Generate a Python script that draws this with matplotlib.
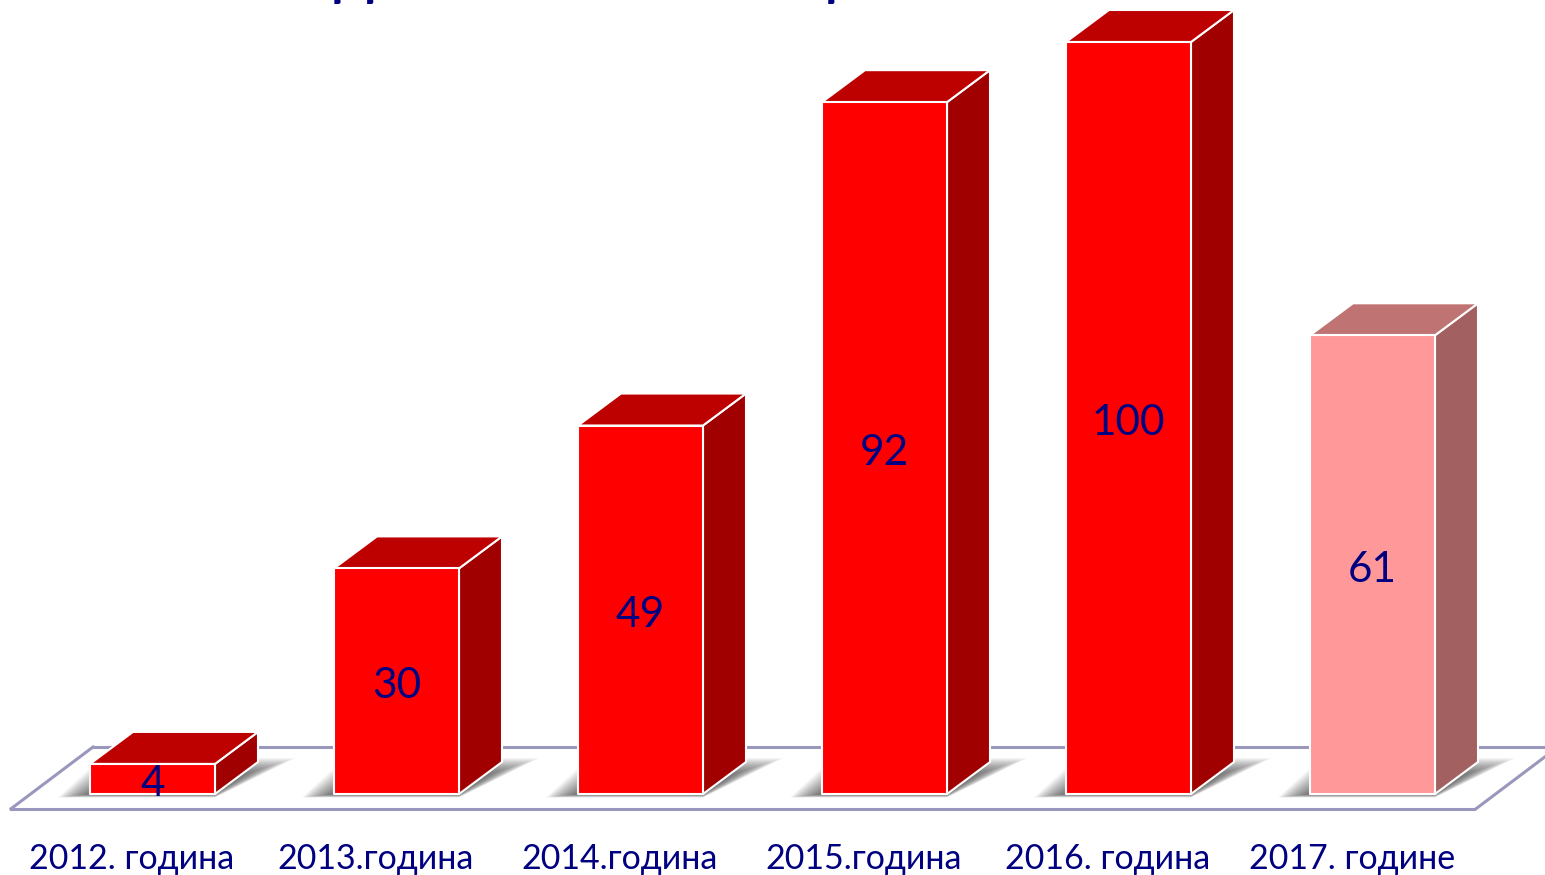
import matplotlib
matplotlib.use('Agg')
import matplotlib.pyplot as plt
from matplotlib.patches import Polygon

plt.rcParams['font.family'] = ['Lato', 'Noto Sans', 'DejaVu Sans']

categories = ['2012. година', '2013.година', '2014.година',
              '2015.година', '2016. година', '2017. године']
values = [4, 30, 49, 92, 100, 61]

front_colors = ['#ff0000'] * 5 + ['#ff9999']
top_colors = ['#bd0000'] * 5 + ['#bf7373']
side_colors = ['#a00000'] * 5 + ['#a36060']

navy = '#000080'
floor_color = '#9a97bd'

# one category is 244 px wide, one unit of value is 7.52 px tall
W, H = 1545, 875
cat_px, val_px = 244.0, 7.52
x0_px, base_px = 152.5, 794.0
bar_w = 125 / cat_px
dx, dy = 43 / cat_px, 32 / val_px

fig = plt.figure(figsize=(W / 100, H / 100), dpi=100)
ax = fig.add_axes([0, 0, 1, 1])
ax.set_xlim(-x0_px / cat_px, (W - x0_px) / cat_px)
ax.set_ylim(-(H - base_px) / val_px, base_px / val_px)
ax.axis('off')

# floor outline
fl, fr = -142.5 / cat_px, 1322.5 / cat_px
fy0, fy1 = -15.5 / val_px, 47 / val_px
fdx = 83 / cat_px
ax.plot([fl + fdx, fl, fr, fr + fdx], [fy1, fy0, fy0, fy1],
        color=floor_color, lw=2.2, zorder=1, solid_joinstyle='miter')
ax.plot([fl + fdx, fr + fdx], [fy1, fy1], color=floor_color, lw=2.2, zorder=1)

# soft shadow behind each bar, stacked translucent shapes
steps = 24
for i in range(len(values)):
    for s in range(steps):
        t = s / (steps - 1)
        grow_l = (1 - t) * 32 / cat_px
        grow_r = (1 - t) * 32 / cat_px
        l = i - bar_w / 2 - grow_l
        r = i + bar_w / 2
        y0 = -3.5 * (1 - t) / val_px
        y1 = (36 - 18 * t) / val_px
        ax.add_patch(Polygon([(l, y0), (r, y0), (r + dx * (y1 * val_px / 32) + grow_r, y1),
                              (l + dx, y1)],
                             closed=True, fc='#303030', ec='none', alpha=0.045, zorder=2))

# bars: side, top, front
edge = dict(ec='white', lw=1.5, joinstyle='round', zorder=3)
for i, v in enumerate(values):
    l, r = i - bar_w / 2, i + bar_w / 2
    ax.add_patch(Polygon([(r, 0), (r + dx, dy), (r + dx, v + dy), (r, v)],
                         closed=True, fc=side_colors[i], **edge))
    ax.add_patch(Polygon([(l, v), (r, v), (r + dx, v + dy), (l + dx, v + dy)],
                         closed=True, fc=top_colors[i], **edge))
    ax.add_patch(Polygon([(l, 0), (r, 0), (r, v), (l, v)],
                         closed=True, fc=front_colors[i], **edge))
    ax.text(i, v / 2 - 5 / val_px, str(v), color=navy, fontsize=30.5,
            ha='center', va='center', zorder=4)
    ax.text(i - 20.5 / cat_px, -65 / val_px, categories[i], color=navy, fontsize=24.5,
            ha='center', va='center', zorder=4)

# title is cut off by the top edge, only the letter feet remain
ax.text((354 - x0_px) / cat_px, (base_px + 4.5) / val_px, 'Д', color=navy, fontsize=36,
        fontweight='bold', ha='center', va='baseline', zorder=4)
ax.text((816 - x0_px) / cat_px, (base_px + 4.5) / val_px, 'Ц', color=navy, fontsize=36,
        fontweight='bold', ha='center', va='baseline', zorder=4)

plt.savefig('out.png', dpi=100)
plt.close()
